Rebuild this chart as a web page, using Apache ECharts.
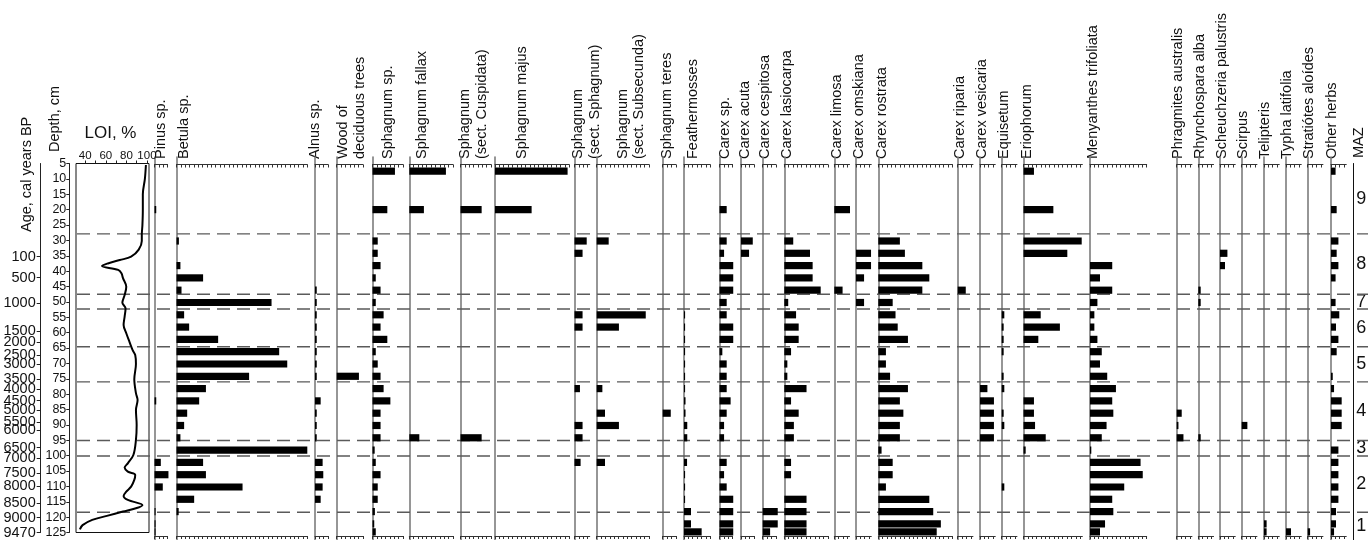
<!DOCTYPE html>
<html>
<head>
<meta charset="utf-8">
<title>Plant macrofossil diagram</title>
<script src="https://cdn.jsdelivr.net/npm/echarts@6/dist/echarts.min.js"></script>
<style>
  html, body { margin: 0; padding: 0; background: #fff; }
  #chart { width: 1368px; height: 540px; }
</style>
</head>
<body>
<div id="chart"></div>
<script>
// ---- Sample depths (cm) ----
const sampleDepths = [7.5, 20, 30.2, 34.2, 38.2, 42.2, 46.2, 50.2, 54.2, 58.2, 62.2, 66.2, 70.2, 74.2,
  78.2, 82.2, 86.2, 90.2, 94.2, 98.2, 102.2, 106.2, 110.2, 114.2, 118.2, 122.2, 124.8];

// ---- Macrofossil abundances (%), one value per sample depth ----
const pinus        = [0, 0.8, 0, 0, 0, 0, 0, 0, 0, 0, 0, 0, 0, 0, 0, 0.8, 0, 0, 0, 0, 2.9, 6.4, 3.8, 0, 0.5, 0.5, 0.5];
const betula       = [0, 0, 1.1, 0, 1.8, 12.2, 2.3, 43.6, 3.5, 5.8, 19.1, 47.1, 50.8, 33.3, 13.5, 10.4, 4.9, 3.5, 1.8, 60, 12.2, 13.5, 30.3, 8.1, 1, 0, 0];
const alnus        = [0, 0, 0, 0, 0, 0, 0.8, 0.8, 0.8, 0.8, 0.8, 0.8, 0.8, 0.8, 0, 2.6, 0.8, 0.8, 0.8, 0, 3.5, 3.8, 3.5, 2.6, 0, 0, 0];
const woodDecid    = [0, 0, 0, 0, 0, 0, 0, 0, 0, 0, 0, 0, 0, 10.2, 0, 0, 0, 0, 0, 0, 0, 0, 0, 0, 0, 0, 0];
const sphagnumSp   = [10.3, 6.8, 2.4, 2.4, 3.7, 1.5, 3.7, 1.5, 5.1, 3.7, 6.8, 1.5, 2.4, 3.7, 5.1, 8.2, 3.7, 3.7, 3.7, 1, 1.5, 3.7, 2.4, 2.4, 1.1, 0.8, 1.5];
const sphFallax    = [16.8, 6.7, 0, 0, 0, 0, 0, 0, 0, 0, 0, 0, 0, 0, 0, 0, 0, 0, 4.6, 0, 0, 0, 0, 0, 0, 0, 0];
const sphCuspidata = [0, 9.7, 0, 0, 0, 0, 0, 0, 0, 0, 0, 0, 0, 0, 0, 0, 0, 0, 9.7, 0, 0, 0, 0, 0, 0, 0, 0];
const sphMajus     = [33.3, 16.8, 0, 0, 0, 0, 0, 0, 0, 0, 0, 0, 0, 0, 0, 0, 0, 0, 0, 0, 0, 0, 0, 0, 0, 0, 0];
const sphSectSph   = [0, 0, 5.6, 3.7, 0, 0, 0, 0, 3.7, 3.7, 0, 0, 0, 0, 2.5, 0, 0, 3.7, 3.7, 0, 2.8, 0, 0, 0, 0, 0, 0];
const sphSubsecunda= [0, 0, 5.5, 0, 0, 0, 0, 0, 22.5, 10.2, 0, 0, 0, 0, 2.6, 0, 3.8, 10.2, 0, 0, 3.8, 0, 0, 0, 0, 0, 0];
const sphTeres     = [0, 0, 0, 0, 0, 0, 0, 0, 0, 0, 0, 0, 0, 0, 0, 0, 3.7, 0, 0, 0, 0, 0, 0, 0, 0, 0, 0];
const feathermosses= [0, 0, 0, 0, 0, 0, 0, 0, 0.5, 0.5, 0.5, 0.5, 0.5, 0.5, 0.5, 0.7, 0.7, 1.5, 1.5, 0, 1.4, 0.5, 0.5, 0.5, 3.2, 3.2, 8.1];
const carexSp      = [0, 3.3, 3.3, 2.1, 6.3, 6.3, 6.3, 3.3, 3.3, 6.3, 6.3, 1.3, 3.3, 3.3, 3.3, 5.1, 3.3, 2.1, 2.1, 0, 3.3, 2.1, 3.3, 6.3, 6.3, 6.3, 6.3];
const carexAcuta   = [0, 0, 5.4, 3.7, 0, 0, 0, 0, 0, 0, 0, 0, 0, 0, 0, 0, 0, 0, 0, 0, 0, 0, 0, 0, 0, 0, 0];
const carexCespitosa=[0, 0, 0, 0, 0, 0, 0, 0, 0, 0, 0, 0, 0, 0, 0, 0, 0, 0, 0, 0, 0, 0, 0, 0, 6.9, 6.9, 3.4];
const carexLasiocarpa=[0, 0, 4.1, 11.8, 13, 13, 16.7, 1.8, 5.4, 6.6, 6.6, 3.1, 1.4, 1.4, 10.2, 3.1, 6.6, 4.4, 4.4, 0, 3.1, 3.1, 0, 10.2, 10.2, 10.2, 10.2];
const carexLimosa  = [0, 7.2, 0, 0, 0, 0, 3.8, 0, 0, 0, 0, 0, 0, 0, 0, 0, 0, 0, 0, 0, 0, 0, 0, 0, 0, 0, 0];
const carexOmskiana= [0, 0, 0, 6.9, 6.9, 3.7, 0, 3.7, 0, 0, 0, 0, 0, 0, 0, 0, 0, 0, 0, 0, 0, 0, 0, 0, 0, 0, 0];
const carexRostrata= [0, 0, 9.9, 12.2, 20.2, 23.4, 20.2, 6.6, 7.9, 8.9, 13.6, 3.5, 3.5, 5.4, 13.6, 9.9, 11.5, 9.9, 9.9, 1.5, 6.6, 6.6, 3.5, 23.4, 25.2, 28.7, 26.8];
const carexRiparia = [0, 0, 0, 0, 0, 0, 3.7, 0, 0, 0, 0, 0, 0, 0, 0, 0, 0, 0, 0, 0, 0, 0, 0, 0, 0, 0, 0];
const carexVesicaria=[0, 0, 0, 0, 0, 0, 0, 0, 0, 0, 0, 0, 0, 0, 3.4, 6.4, 6.4, 6.4, 6.4, 0, 0, 0, 0, 0, 0, 0, 0];
const equisetum    = [0, 0, 0, 0, 0, 0, 0, 0, 1.2, 0.9, 0.9, 0.9, 0, 0.9, 1.2, 0, 0.9, 1.2, 0, 0, 0, 0, 1.2, 0, 0, 0, 0];
const eriophorum   = [4.8, 13.7, 26.7, 20.1, 0, 0, 0, 0, 7.9, 16.7, 6.8, 0, 0, 0, 0, 4.8, 4.8, 5.3, 10.2, 1, 0, 0, 0, 0, 0, 0, 0];
const menyanthes   = [0, 0, 0, 0, 10.2, 4.6, 10.2, 3.4, 2, 2, 3.4, 5.4, 4.6, 7.9, 11.9, 10.2, 10.7, 7.6, 5.4, 0.6, 23.2, 24.2, 15.7, 10.2, 10.7, 6.9, 4.6];
const phragmites   = [0, 0, 0, 0, 0, 0, 0, 0, 0, 0, 0, 0, 0, 0, 0, 0, 2.3, 0.8, 3.1, 0, 0, 0, 0, 0, 0, 0, 0];
const rhynchospora = [0, 0, 0, 0, 0, 0, 1.1, 1.1, 0, 0, 0, 0, 0, 0, 0, 0, 0, 0, 1.1, 0, 0, 0, 0, 0, 0, 0, 0];
const scheuchzeria = [0, 0, 0, 3.4, 2.3, 0, 0, 0, 0, 0, 0, 0, 0, 0, 0, 0, 0, 0, 0, 0, 0, 0, 0, 0, 0, 0, 0];
const scirpus      = [0, 0, 0, 0, 0, 0, 0, 0, 0, 0, 0, 0, 0, 0, 0, 0, 0, 2.6, 0, 0, 0, 0, 0, 0, 0, 0, 0];
const telipteris   = [0, 0, 0, 0, 0, 0, 0, 0, 0, 0, 0, 0, 0, 0, 0, 0, 0, 0, 0, 0, 0, 0, 0, 0, 0, 1.2, 1.2];
const typha        = [0, 0, 0, 0, 0, 0, 0, 0, 0, 0, 0, 0, 0, 0, 0, 0, 0, 0, 0, 0, 0, 0, 0, 0, 0, 0, 2.3];
const stratiotes   = [0, 0, 0, 0, 0, 0, 0, 0, 0, 0, 0, 0, 0, 0, 0, 0, 0, 0, 0, 0, 0, 0, 0, 0, 0, 0, 1.1];
const otherHerbs   = [2.1, 2.6, 3.4, 2.6, 3.4, 2.1, 0, 2.1, 3.8, 2.3, 3.4, 2.6, 0, 0.8, 1.4, 4.9, 4.9, 4.9, 0, 3.4, 3.4, 3.4, 3.4, 3.4, 2.3, 2.3, 1.4];

// ---- Taxon names (column headers) ----
const taxa = ['Pinus sp.', 'Betula sp.', 'Alnus sp.', 'Wood of\ndeciduous trees', 'Sphagnum sp.',
  'Sphagnum fallax', 'Sphagnum\n(sect. Cuspidata)', 'Sphagnum majus', 'Sphagnum\n(sect. Sphagnum)',
  'Sphagnum\n(sect. Subsecunda)', 'Sphagnum teres', 'Feathermosses', 'Carex sp.', 'Carex acuta',
  'Carex cespitosa', 'Carex lasiocarpa', 'Carex limosa', 'Carex omskiana', 'Carex rostrata',
  'Carex riparia', 'Carex vesicaria', 'Equisetum', 'Eriophorum', 'Menyanthes trifoliata',
  'Phragmites australis', 'Rhynchospara alba', 'Scheuchzeria palustris', 'Scirpus', 'Telipteris',
  'Typha latifolia', 'Stratiótes aloídes', 'Other herbs'];
const taxonValues = [pinus, betula, alnus, woodDecid, sphagnumSp, sphFallax, sphCuspidata, sphMajus,
  sphSectSph, sphSubsecunda, sphTeres, feathermosses, carexSp, carexAcuta, carexCespitosa,
  carexLasiocarpa, carexLimosa, carexOmskiana, carexRostrata, carexRiparia, carexVesicaria, equisetum,
  eriophorum, menyanthes, phragmites, rhynchospora, scheuchzeria, scirpus, telipteris, typha,
  stratiotes, otherHerbs];
// Axis maximum (%) of every column, all drawn at one common scale
const panelMax = [6, 60, 6, 12, 14, 20, 14, 34, 7, 24, 6, 12, 6, 6, 6, 20, 7, 7, 34, 7, 7, 7,
  27, 26, 7, 7, 7, 7, 7, 7, 7, 7];

// ---- Loss on ignition curve: [LOI %, depth cm] ----
const loiValues = [99, 98, 96, 96, 95.6, 95, 95, 92, 84.6, 73.6, 62, 56.3, 72, 75.2, 76.7, 79.9, 78.3,
  76.1, 79.2, 78.3, 77.3, 79.9, 83, 86.1, 88.6, 89.3, 87.7, 89.3, 90.9, 89.3, 90, 89.3, 86.8, 81.4,
  78.3, 81.4, 88.6, 87.7, 84.6, 79.9, 77.3, 81.4, 95.6, 89.3, 76.7, 61, 46.8, 37.4, 34.8];
const loiDepths = [5.5, 10, 15, 20, 25, 28.3, 30.2, 33, 35.3, 36.4, 37.5, 38.3, 39.6, 40.7, 42.3, 45.1,
  47.8, 50.3, 52.1, 54.8, 57.5, 60.2, 63, 65.7, 67.3, 70.2, 75.2, 79.7, 81.9, 85.2, 90, 94.9, 99.8,
  102.5, 103.9, 105.2, 106.3, 107.9, 110.1, 111.7, 113.1, 114.4, 116.1, 117.1, 118.2, 119.6, 120.9,
  122.6, 124];
const loiTicks = [40, 60, 80, 100];

// ---- Depth scale and calibrated ages ----
const depthTicks = [5, 10, 15, 20, 25, 30, 35, 40, 45, 50, 55, 60, 65, 70, 75, 80, 85, 90, 95, 100, 105, 110, 115, 120, 125];
const ageLabels = [100, 500, 1000, 1500, 2000, 2500, 3000, 3500, 4000, 4500, 5000, 5500, 6000, 6500, 7000, 7500, 8000, 8500, 9000, 9470];
const ageDepths = [35.3, 42.1, 50.3, 59.5, 63, 67.3, 70.2, 75.1, 78.4, 82.1, 85.2, 89, 91.7, 97.4, 100.7, 105.6, 109.9, 115.5, 120.2, 125];

// ---- Macrofossil assemblage zones ----
const zoneBounds = [27.9, 47.5, 52.3, 64.6, 76, 95.1, 100.1, 118.4];
const zoneNames = ['9', '8', '7', '6', '5', '4', '3', '2', '1'];

// ---------------------------------------------------------------------------
const FONT = '"Liberation Sans", Arial, Helvetica, sans-serif';
const TEXT = '#111';
const PX_PER_UNIT = 2.18;               // horizontal scale shared by all columns
const Y_DEPTH5 = 163.5, PX_PER_CM = 3.075;
const depthAtY = y => 5 + (y - Y_DEPTH5) / PX_PER_CM;
const PANEL_TOP = 157, PANEL_BOTTOM = 540, TICKLINE_TOP = 164.5, TICKLINE_BOTTOM = 536;
const DEPTH_MIN = 5, DEPTH_MAX = 125;
const PLOT_TOP = Y_DEPTH5, PLOT_H = (DEPTH_MAX - DEPTH_MIN) * PX_PER_CM;

// Left edge of each taxon column and the centre of its rotated header
const panelLeft = [154.5, 176.5, 315, 336.7, 372.5, 409.3, 460.5, 495, 574.5, 596.7, 662.7, 684,
  719.5, 741, 762.7, 784.3, 834.3, 856, 878.3, 957.7, 980, 1001.7, 1023.5, 1090, 1176.7, 1198.3,
  1220, 1241.7, 1264, 1286, 1307.7, 1331];
const headerX = [161, 183.8, 315.2, 351.6, 387.8, 422, 473.6, 522, 586.6, 631, 667, 693.4, 725,
  744.6, 765, 787, 837, 858.6, 882, 960, 982, 1003.6, 1027, 1092.6, 1177.6, 1200, 1222, 1242.6,
  1265, 1287, 1309, 1332];

const grid = [], xAxis = [], yAxis = [], series = [], graphic = [];

function hiddenAxis(gi, extra) {
  return Object.assign({ gridIndex: gi, type: 'value', show: false, splitLine: { show: false } }, extra);
}
function tickValues(max) {
  const v = [];
  for (let t = 0; t <= max + 1e-9; t += 2) v.push(t);
  return v;
}
function headerText(text, x, y) {
  graphic.push({
    type: 'text', x: x, y: y, rotation: Math.PI / 2, silent: true,
    style: { text: text, font: '14.5px ' + FONT, fill: TEXT, align: 'left', verticalAlign: 'middle',
      textAlign: 'left', textVerticalAlign: 'middle', lineHeight: 16.5 }
  });
}

// Horizontal bar drawn from zero to the sample value at its depth
function barItem(params, api) {
  const v = api.value(0), d = api.value(1);
  const p0 = api.coord([0, d]);
  const p1 = api.coord([v, d]);
  return {
    type: 'rect',
    shape: { x: p0[0], y: p0[1] - 3.6, width: Math.max(p1[0] - p0[0], 1), height: 7.2 },
    style: { fill: '#000' }
  };
}

// ---- Zone boundaries (dashed, full width) ----
{
  const gi = grid.length;
  grid.push({ left: 77, right: 0, top: PLOT_TOP, height: PLOT_H });
  xAxis.push(hiddenAxis(gi, { min: 0, max: 1 }));
  yAxis.push(hiddenAxis(gi, { min: DEPTH_MIN, max: DEPTH_MAX, inverse: true }));
  series.push({
    type: 'custom', xAxisIndex: xAxis.length - 1, yAxisIndex: yAxis.length - 1, z: 1, silent: true,
    data: zoneBounds.map(d => [d]),
    encode: { y: 0 },
    renderItem: (params, api) => {
      const d = api.value(0);
      const a = api.coord([0, d]), b = api.coord([1, d]);
      return { type: 'line', shape: { x1: a[0], y1: a[1], x2: b[0], y2: b[1] },
        style: { stroke: '#5a5a5a', lineWidth: 1.4, lineDash: [13, 7] } };
    }
  });
}

// ---- Age axis (ticks from the axis, calibrated ages written beside them) ----
{
  const gi = grid.length;
  grid.push({ left: 40.7, width: 4, top: PLOT_TOP, height: PLOT_H });
  xAxis.push(hiddenAxis(gi, { min: 0, max: 1 }));
  yAxis.push({
    gridIndex: gi, type: 'value', inverse: true, min: DEPTH_MIN, max: DEPTH_MAX, position: 'left',
    axisLine: { show: true, onZero: false, lineStyle: { color: '#222', width: 1 } },
    axisTick: { show: true, length: 4, customValues: ageDepths, lineStyle: { color: '#222' } },
    axisLabel: { show: false },
    splitLine: { show: false }
  });
  series.push({
    type: 'custom', xAxisIndex: xAxis.length - 1, yAxisIndex: yAxis.length - 1, z: 6, silent: true,
    data: ageDepths.map((d, k) => [0, d, ageLabels[k]]),
    encode: { x: 0, y: 1 },
    renderItem: (params, api) => {
      const p = api.coord([0, api.value(1)]);
      return { type: 'text', x: p[0] - 5, y: p[1],
        style: { text: String(api.value(2)), font: '14.5px ' + FONT, fill: TEXT,
          align: 'right', verticalAlign: 'middle' } };
    }
  });
}

// ---- Depth axis ----
{
  const gi = grid.length;
  grid.push({ left: 69.3, width: 4, top: PLOT_TOP, height: PLOT_H });
  xAxis.push(hiddenAxis(gi, { min: 0, max: 1 }));
  yAxis.push({
    gridIndex: gi, type: 'value', inverse: true, min: DEPTH_MIN, max: DEPTH_MAX, position: 'left',
    axisLine: { show: true, onZero: false, lineStyle: { color: '#222', width: 1 } },
    axisTick: { show: true, length: 3, customValues: depthTicks, lineStyle: { color: '#222' } },
    axisLabel: { show: true, customValues: depthTicks, margin: 3, fontSize: 12.5, lineHeight: 11,
      fontFamily: FONT, color: TEXT, showMinLabel: true, showMaxLabel: true },
    splitLine: { show: false }
  });
}

// ---- LOI curve ----
{
  const gi = grid.length;
  grid.push({ left: 76, width: 73, top: PLOT_TOP, height: PLOT_H, show: true,
    borderColor: '#111', borderWidth: 1, backgroundColor: 'transparent' });
  xAxis.push({
    gridIndex: gi, type: 'value', position: 'top', min: 31, max: 102,
    axisLine: { show: false, onZero: false },
    axisTick: { show: true, inside: false, length: 3, customValues: [40, 50, 60, 70, 80, 90, 100],
      lineStyle: { color: '#222' } },
    axisLabel: { show: true, customValues: loiTicks, margin: 2, fontSize: 11.5, fontFamily: FONT, color: TEXT,
      showMinLabel: true, showMaxLabel: true },
    splitLine: { show: false }
  });
  yAxis.push(hiddenAxis(gi, { min: DEPTH_MIN, max: DEPTH_MAX, inverse: true }));
  series.push({
    type: 'line', xAxisIndex: xAxis.length - 1, yAxisIndex: yAxis.length - 1, z: 4,
    data: loiValues.map((v, k) => [v, loiDepths[k]]),
    symbol: 'none', smooth: 0.35, silent: true,
    lineStyle: { color: '#000', width: 2 }
  });
  graphic.push({ type: 'text', x: 110.5, y: 133, silent: true,
    style: { text: 'LOI, %', font: '17px ' + FONT, fill: TEXT, align: 'center', verticalAlign: 'middle',
      textAlign: 'center', textVerticalAlign: 'middle' } });
}

// ---- Taxon columns ----
taxa.forEach((name, i) => {
  const gi = grid.length;
  const max = panelMax[i];
  grid.push({ left: panelLeft[i], top: PANEL_TOP, width: max * PX_PER_UNIT, height: PANEL_BOTTOM - PANEL_TOP });
  const xTop = xAxis.length;
  xAxis.push({
    gridIndex: gi, type: 'value', position: 'top', min: 0, max: max, offset: -(TICKLINE_TOP - PANEL_TOP),
    axisLine: { show: true, onZero: false, lineStyle: { color: '#333', width: 1 } },
    axisTick: { show: true, inside: true, length: 3, customValues: tickValues(max), lineStyle: { color: '#333' } },
    axisLabel: { show: false }, splitLine: { show: false }
  });
  xAxis.push({
    gridIndex: gi, type: 'value', position: 'bottom', min: 0, max: max, offset: -(PANEL_BOTTOM - TICKLINE_BOTTOM),
    axisLine: { show: true, onZero: false, lineStyle: { color: '#333', width: 1 } },
    axisTick: { show: true, inside: false, length: 3, customValues: tickValues(max), lineStyle: { color: '#333' } },
    axisLabel: { show: false }, splitLine: { show: false }
  });
  const yi = yAxis.length;
  yAxis.push({
    gridIndex: gi, type: 'value', inverse: true, min: depthAtY(PANEL_TOP), max: depthAtY(PANEL_BOTTOM),
    axisLine: { show: true, onZero: false, lineStyle: { color: '#7c7c7c', width: 1.6 } },
    axisTick: { show: false }, axisLabel: { show: false }, splitLine: { show: false }
  });
  const vals = taxonValues[i];
  series.push({
    type: 'custom', name: name.replace('\n', ' '), xAxisIndex: xTop, yAxisIndex: yi, z: 5, silent: true,
    data: sampleDepths.map((d, k) => [vals[k], d]).filter(p => p[0] > 0),
    encode: { x: 0, y: 1 },
    renderItem: barItem
  });
  headerText(name, headerX[i], 159);
});

// ---- MAZ column ----
{
  const gi = grid.length;
  grid.push({ left: 1353.3, width: 14, top: PLOT_TOP, height: PANEL_BOTTOM - PLOT_TOP });
  xAxis.push(hiddenAxis(gi, { min: 0, max: 1 }));
  const bounds = [DEPTH_MIN].concat(zoneBounds, [depthAtY(PANEL_BOTTOM)]);
  const mids = zoneNames.map((z, k) => (bounds[k] + bounds[k + 1]) / 2);
  yAxis.push({
    gridIndex: gi, type: 'value', inverse: true, min: DEPTH_MIN, max: depthAtY(PANEL_BOTTOM), position: 'left',
    axisLine: { show: true, onZero: false, lineStyle: { color: '#111', width: 1 } },
    axisTick: { show: false },
    axisLabel: { show: true, inside: true, customValues: mids, margin: 3, fontSize: 18, fontFamily: FONT, color: TEXT,
      showMinLabel: true, showMaxLabel: true,
      formatter: v => { const k = mids.indexOf(v); return k >= 0 ? zoneNames[k] : ''; } },
    splitLine: { show: false }
  });
  headerText('MAZ', 1358.5, 158);
}

headerText('Depth, cm', 55, 152);
headerText('Age, cal years BP', 26.5, 232);

const chart = echarts.init(document.getElementById('chart'), null, { renderer: 'canvas' });
chart.setOption({
  animation: false,
  backgroundColor: '#fff',
  textStyle: { fontFamily: FONT },
  grid: grid, xAxis: xAxis, yAxis: yAxis, series: series, graphic: graphic
});
</script>
</body>
</html>
